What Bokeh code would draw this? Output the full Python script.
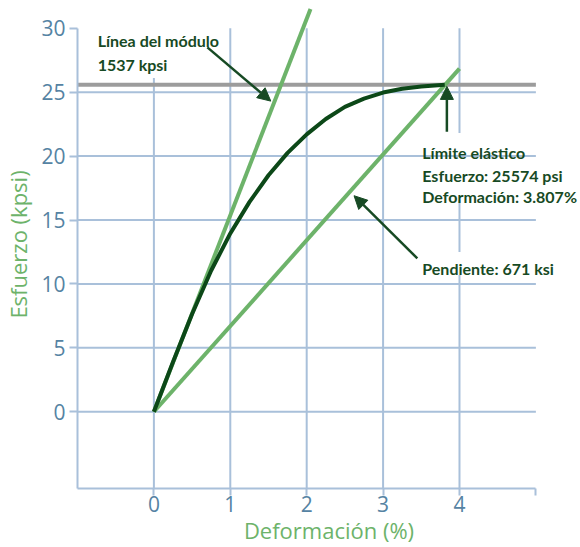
from bokeh.plotting import figure
from bokeh.models import Range1d, FixedTicker, Arrow, NormalHead
from bokeh.core.properties import value
from bokeh.embed import file_html
from bokeh.resources import INLINE

# Stress-strain curve (strain in %, stress in kpsi)
strain_pct = [0, 0.25, 0.5, 0.75, 1.0, 1.25, 1.5, 1.75, 2.0, 2.25, 2.5, 2.75, 3.0, 3.25, 3.5, 3.807]
stress_kpsi = [0, 3.9, 7.65, 11.05, 13.95, 16.4, 18.5, 20.25, 21.7, 22.9, 23.85, 24.5, 24.97, 25.27, 25.45, 25.574]

# Reference values
modulus_kpsi = 1537          # elastic modulus line slope
secant_ksi = 671             # secant slope to the yield point
yield_strain_pct = 3.807
yield_stress_psi = 25574

x_ticks = [0, 1, 2, 3, 4]
y_ticks = [0, 5, 10, 15, 20, 25, 30]

# Extents of the lines
modulus_x = [0, 2.05]
secant_x = [0, 4.0]

GRID = "#a9c0da"
TICK_TXT = "#5583a3"
LIGHT_GREEN = "#6db36a"
DARK_GREEN = "#0c4818"
NOTE = "#174a24"
GRAY = "#9c9c9c"
FONT = "Lato"

p = figure(width=580, height=547, x_range=Range1d(-1, 5.584), y_range=Range1d(-6, 32.17),
           min_border_left=77, min_border_right=0, min_border_top=0, min_border_bottom=58,
           toolbar_location=None, output_backend="svg")
p.outline_line_color = None
p.xgrid.visible = False
p.ygrid.visible = False

# Axes
for ax in (p.xaxis, p.yaxis):
    ax.axis_line_color = GRID
    ax.axis_line_width = 2
    ax.major_tick_line_color = GRID
    ax.major_tick_line_width = 2
    ax.major_tick_out = 8
    ax.major_tick_in = 0
    ax.minor_tick_line_color = None
    ax.major_label_text_color = TICK_TXT
    ax.major_label_text_font = "Open Sans"
    ax.major_label_text_font_size = "21px"
    ax.axis_label_text_color = LIGHT_GREEN
    ax.axis_label_text_font = "Open Sans"
    ax.axis_label_text_font_size = "22px"
    ax.axis_label_text_font_style = "normal"

p.xaxis.bounds = (-1, 5)
p.xaxis.ticker = FixedTicker(ticks=x_ticks + [5])
p.xaxis.major_label_overrides = {5: ""}
p.xaxis.axis_label = "Deformación (%)"
p.xaxis.major_label_standoff = 0
p.xaxis.axis_label_standoff = 0
p.xaxis.major_tick_out = 7

p.yaxis.bounds = (-6, 30)
p.yaxis.ticker = FixedTicker(ticks=y_ticks)
p.yaxis.axis_label = "Esfuerzo (kpsi)"
p.yaxis.major_label_standoff = 4
p.yaxis.axis_label_standoff = 5

# Vertical grid lines
p.segment(x0=x_ticks, x1=x_ticks, y0=[-6] * len(x_ticks), y1=[30] * len(x_ticks),
          line_color=GRID, line_width=2)

# White backing behind the annotation texts
p.quad(left=[-0.83, 3.45, 3.40], right=[0.90, 5.56, 5.30],
       top=[30.8, 21.8, 12.5], bottom=[26.1, 16.55, 10.7],
       fill_color="white", line_color=None)

# Horizontal grid lines
h_ticks = y_ticks[:-1]
p.segment(x0=[-1] * len(h_ticks), x1=[5] * len(h_ticks), y0=h_ticks, y1=h_ticks,
          line_color=GRID, line_width=2)

# Yield stress level
ys = yield_stress_psi / 1000
p.line(x=[-1, 5], y=[ys, ys], line_color=GRAY, line_width=4)

# Secant and modulus lines
p.line(x=secant_x, y=[v * secant_ksi / 100 for v in secant_x], line_color=LIGHT_GREEN, line_width=4)
p.line(x=modulus_x, y=[v * modulus_kpsi / 100 for v in modulus_x], line_color=LIGHT_GREEN, line_width=4)

# Stress-strain curve
p.line(x=strain_pct, y=stress_kpsi, line_color=DARK_GREEN, line_width=4, line_join="round")

# Arrows
def arrow(x0, y0, x1, y1):
    p.add_layout(Arrow(x_start=x0, y_start=y0, x_end=x1, y_end=y1,
                       line_color=NOTE, line_width=2.5,
                       end=NormalHead(size=13, fill_color=NOTE, line_color=NOTE)))

arrow(0.70, 28.5, 1.53, 24.3)
arrow(3.835, 21.9, 3.835, 25.45)
arrow(3.448, 12.0, 2.62, 16.9)

# Annotation texts
notes = [
    (-0.736, 29.04, "Línea del módulo"),
    (-0.736, 27.17, f"{modulus_kpsi} kpsi"),
    (3.513, 20.32, "Límite elástico"),
    (3.513, 18.50, f"Esfuerzo: {yield_stress_psi} psi"),
    (3.513, 16.81, f"Deformación: {yield_strain_pct}%"),
    (3.513, 11.22, f"Pendiente: {secant_ksi} ksi"),
]
p.text(x=[n[0] for n in notes], y=[n[1] for n in notes], text=[n[2] for n in notes],
       text_font=value(FONT), text_font_style="bold", text_font_size="16px",
       text_color=NOTE, text_baseline="alphabetic", text_align="left")

open("out.html", "w").write(file_html(p, INLINE))
